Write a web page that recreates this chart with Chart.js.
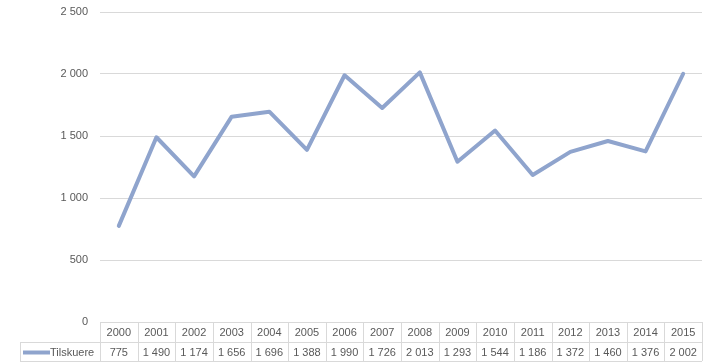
<!DOCTYPE html>
<html>
<head>
<meta charset="utf-8">
<script src="https://cdn.jsdelivr.net/npm/chart.js@4"></script>
<style>
  html, body { margin: 0; padding: 0; background: #fff; }
  #wrap { width: 712px; height: 364px; }
</style>
</head>
<body>
<div id="wrap"><canvas id="chart"></canvas></div>
<script>
const years = ['2000', '2001', '2002', '2003', '2004', '2005', '2006', '2007',
               '2008', '2009', '2010', '2011', '2012', '2013', '2014', '2015'];
const tilskuere = [775, 1490, 1174, 1656, 1696, 1388, 1990, 1726,
                   2013, 1293, 1544, 1186, 1372, 1460, 1376, 2002];
const seriesName = 'Tilskuere';

const lineColor = '#8fa4cd';
const gridColor = '#d9d9d9';
const textColor = '#595959';
const fontFamily = '"Liberation Sans", Arial, sans-serif';
const font = '11px ' + fontFamily;

function fmt(v) {
    return String(v).replace(/\B(?=(\d{3})+(?!\d))/g, ' ');
}

// draws the data table under the plot, columns taken from the x scale
const dataTable = {
    id: 'dataTable',
    afterDraw(chart) {
        const ctx = chart.ctx;
        const x = chart.scales.x;
        const area = chart.chartArea;
        const colW = (area.right - area.left) / years.length;
        const top = area.bottom;
        const mid = top + 20;
        const bottom = mid + 19;
        const legendLeft = 20;

        ctx.save();
        ctx.strokeStyle = gridColor;
        ctx.lineWidth = 1;
        ctx.beginPath();
        ctx.moveTo(area.left, top + 0.5); ctx.lineTo(area.right, top + 0.5);
        ctx.moveTo(legendLeft, mid + 0.5); ctx.lineTo(area.right, mid + 0.5);
        ctx.moveTo(legendLeft, bottom + 0.5); ctx.lineTo(area.right, bottom + 0.5);
        ctx.moveTo(legendLeft + 0.5, mid); ctx.lineTo(legendLeft + 0.5, bottom);
        for (let i = 0; i <= years.length; i++) {
            const bx = Math.round(area.left + i * colW) + 0.5;
            ctx.moveTo(bx, top); ctx.lineTo(bx, bottom);
        }
        ctx.stroke();

        ctx.fillStyle = textColor;
        ctx.font = font;
        ctx.textAlign = 'center';
        ctx.textBaseline = 'middle';
        years.forEach((yr, i) => {
            const cx = x.getPixelForValue(i);
            ctx.fillText(yr, cx, (top + mid) / 2 + 1);
            ctx.fillText(fmt(tilskuere[i]), cx, (mid + bottom) / 2 + 1);
        });

        // legend key
        ctx.strokeStyle = lineColor;
        ctx.lineWidth = 4;
        ctx.beginPath();
        ctx.moveTo(23, (mid + bottom) / 2 + 1);
        ctx.lineTo(50, (mid + bottom) / 2 + 1);
        ctx.stroke();
        ctx.textAlign = 'left';
        ctx.fillText(seriesName, 50, (mid + bottom) / 2 + 1);
        ctx.restore();
    }
};

new Chart(document.getElementById('chart'), {
    type: 'line',
    data: {
        labels: years,
        datasets: [{
            label: seriesName,
            data: tilskuere,
            borderColor: lineColor,
            borderWidth: 4,
            pointRadius: 0,
            tension: 0,
            borderJoinStyle: 'round',
            borderCapStyle: 'round'
        }]
    },
    options: {
        responsive: true,
        maintainAspectRatio: false,
        animation: false,
        layout: { padding: { top: 12, right: 10, bottom: 42, left: 0 } },
        plugins: {
            legend: { display: false },
            tooltip: { enabled: false }
        },
        scales: {
            x: { display: false, offset: true },
            y: {
                min: 0,
                max: 2500,
                afterFit(scale) {
                    scale.width = 100;
                    scale.paddingTop = 0;
                    scale.paddingBottom = 0;
                },
                ticks: {
                    stepSize: 500,
                    padding: 12,
                    color: textColor,
                    font: { family: fontFamily, size: 11 },
                    callback: v => fmt(v)
                },
                grid: { color: gridColor, drawTicks: false },
                border: { display: false }
            }
        }
    },
    plugins: [dataTable]
});
</script>
</body>
</html>
